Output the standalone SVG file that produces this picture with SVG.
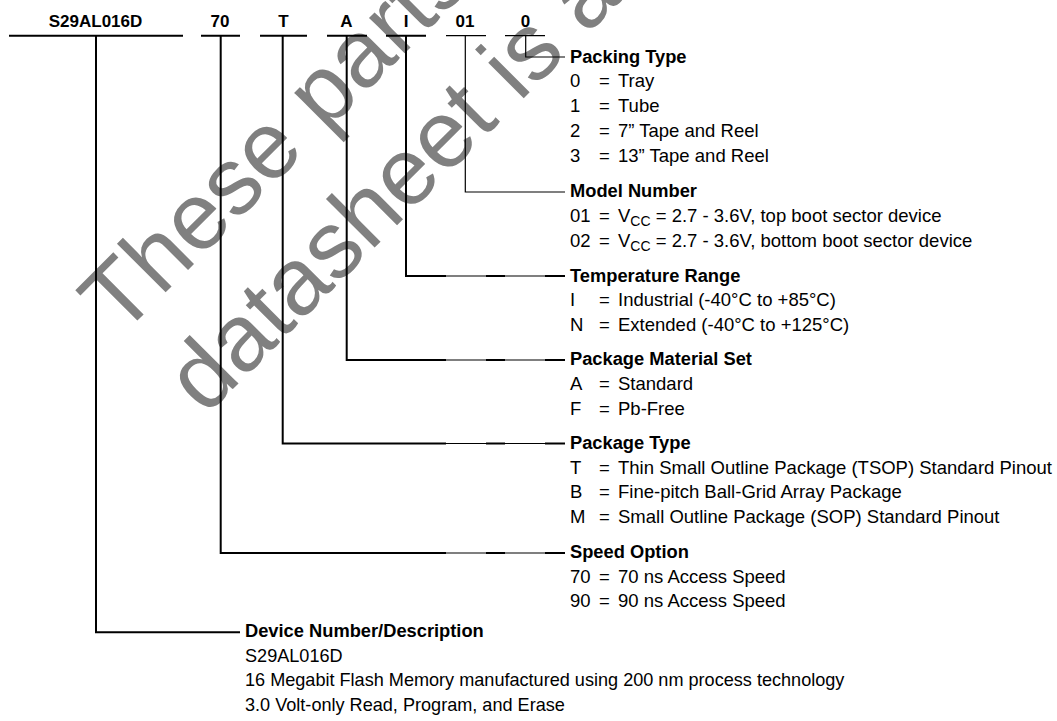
<svg xmlns="http://www.w3.org/2000/svg" width="1057" height="721" viewBox="0 0 1057 721">
<style>
  text { font-family: "Liberation Sans", Arial, sans-serif; fill: #000; }
  .code { font-size: 17px; font-weight: bold; text-anchor: middle; }
  .hdr { font-size: 18.3px; font-weight: bold; }
  .txt { font-size: 18.5px; }
  .dtxt { font-size: 18.1px; }
  .sub { font-size: 14px; }
  .wm { font-family: "Liberation Sans", Arial, sans-serif; font-size: 95px; fill: #808080; }
  .thick { stroke: #000; stroke-width: 2; fill: none; }
  .thin { stroke: #000; stroke-width: 1.2; fill: none; }
</style>
<rect width="1057" height="721" fill="#fff"/>
<g id="watermark" transform="translate(120,338) rotate(-45)">
  <text class="wm" x="0" y="0">These parts</text>
  <text class="wm" x="5" y="116">datasheet is a</text>
</g>
<g id="code-device">
  <text class="code" x="95.5" y="27">S29AL016D</text>
  <line class="thick" x1="9" y1="35.7" x2="183" y2="35.7"/>
</g>
<g id="code-speed">
  <text class="code" x="220" y="27">70</text>
  <line class="thick" x1="201" y1="35.7" x2="240" y2="35.7"/>
</g>
<g id="code-package">
  <text class="code" x="283.5" y="27">T</text>
  <line class="thick" x1="260" y1="35.7" x2="307" y2="35.7"/>
</g>
<g id="code-material">
  <text class="code" x="346.5" y="27">A</text>
  <line class="thick" x1="327" y1="35.7" x2="367" y2="35.7"/>
</g>
<g id="code-temp">
  <text class="code" x="406" y="27">I</text>
  <line class="thick" x1="386" y1="35.7" x2="426" y2="35.7"/>
</g>
<g id="code-model">
  <text class="code" x="465" y="27">01</text>
  <line class="thin" x1="446" y1="35.7" x2="486" y2="35.7"/>
</g>
<g id="code-packing">
  <text class="code" x="525.5" y="27">0</text>
  <line class="thin" x1="505" y1="35.7" x2="545" y2="35.7"/>
</g>
<g id="connectors">
  <polyline class="thin" points="525.7,36 525.7,57 565,57"/>
  <polyline class="thin" points="465.3,36 465.3,192 565,192"/>
  <polyline class="thick" points="406,36 406,276 446,276"/>
  <line class="thin" x1="446" y1="276" x2="486" y2="276"/>
  <line class="thick" x1="486" y1="276" x2="505" y2="276"/>
  <line class="thin" x1="505" y1="276" x2="545" y2="276"/>
  <line class="thick" x1="545" y1="276" x2="565" y2="276"/>
  <polyline class="thick" points="346.7,36 346.7,360 446,360"/>
  <line class="thin" x1="446" y1="360" x2="486" y2="360"/>
  <line class="thick" x1="486" y1="360" x2="505" y2="360"/>
  <line class="thin" x1="505" y1="360" x2="545" y2="360"/>
  <line class="thick" x1="545" y1="360" x2="565" y2="360"/>
  <polyline class="thick" points="282.7,36 282.7,443.5 446,443.5"/>
  <line class="thin" x1="446" y1="443.5" x2="486" y2="443.5"/>
  <line class="thick" x1="486" y1="443.5" x2="505" y2="443.5"/>
  <line class="thin" x1="505" y1="443.5" x2="545" y2="443.5"/>
  <line class="thick" x1="545" y1="443.5" x2="565" y2="443.5"/>
  <polyline class="thick" points="220.7,36 220.7,553 446,553"/>
  <line class="thin" x1="446" y1="553" x2="486" y2="553"/>
  <line class="thick" x1="486" y1="553" x2="505" y2="553"/>
  <line class="thin" x1="505" y1="553" x2="545" y2="553"/>
  <line class="thick" x1="545" y1="553" x2="565" y2="553"/>
  <polyline class="thick" points="96,36 96,632.3 240,632.3"/>
</g>
<g id="desc-packing">
  <text class="hdr" x="570" y="62.5">Packing Type</text>
  <text class="txt" x="570" y="87.3">0</text><text class="txt" x="599" y="87.3">=</text><text class="txt" x="618" y="87.3">Tray</text>
  <text class="txt" x="570" y="112.1">1</text><text class="txt" x="599" y="112.1">=</text><text class="txt" x="618" y="112.1">Tube</text>
  <text class="txt" x="570" y="136.9">2</text><text class="txt" x="599" y="136.9">=</text><text class="txt" x="618" y="136.9">7” Tape and Reel</text>
  <text class="txt" x="570" y="161.7">3</text><text class="txt" x="599" y="161.7">=</text><text class="txt" x="618" y="161.7">13” Tape and Reel</text>
</g>
<g id="desc-model">
  <text class="hdr" x="570" y="197.3">Model Number</text>
  <text class="txt" x="570" y="222">01</text><text class="txt" x="599" y="222">=</text><text class="txt" x="618" y="222">V<tspan class="sub" dy="4">CC</tspan><tspan dy="-4"> = 2.7 - 3.6V, top boot sector device</tspan></text>
  <text class="txt" x="570" y="246.8">02</text><text class="txt" x="599" y="246.8">=</text><text class="txt" x="618" y="246.8">V<tspan class="sub" dy="4">CC</tspan><tspan dy="-4"> = 2.7 - 3.6V, bottom boot sector device</tspan></text>
</g>
<g id="desc-temp">
  <text class="hdr" x="570" y="281.6">Temperature Range</text>
  <text class="txt" x="570" y="306.4">I</text><text class="txt" x="599" y="306.4">=</text><text class="txt" x="618" y="306.4">Industrial (-40°C to +85°C)</text>
  <text class="txt" x="570" y="331.2">N</text><text class="txt" x="599" y="331.2">=</text><text class="txt" x="618" y="331.2">Extended (-40°C to +125°C)</text>
</g>
<g id="desc-material">
  <text class="hdr" x="570" y="365.3">Package Material Set</text>
  <text class="txt" x="570" y="390">A</text><text class="txt" x="599" y="390">=</text><text class="txt" x="618" y="390">Standard</text>
  <text class="txt" x="570" y="414.8">F</text><text class="txt" x="599" y="414.8">=</text><text class="txt" x="618" y="414.8">Pb-Free</text>
</g>
<g id="desc-package">
  <text class="hdr" x="570" y="448.8">Package Type</text>
  <text class="txt" x="570" y="473.6">T</text><text class="txt" x="599" y="473.6">=</text><text class="txt" x="618" y="473.6">Thin Small Outline Package (TSOP) Standard Pinout</text>
  <text class="txt" x="570" y="498.4">B</text><text class="txt" x="599" y="498.4">=</text><text class="txt" x="618" y="498.4">Fine-pitch Ball-Grid Array Package</text>
  <text class="txt" x="570" y="523.2">M</text><text class="txt" x="599" y="523.2">=</text><text class="txt" x="618" y="523.2">Small Outline Package (SOP) Standard Pinout</text>
</g>
<g id="desc-speed">
  <text class="hdr" x="570" y="557.8">Speed Option</text>
  <text class="txt" x="570" y="582.6">70</text><text class="txt" x="599" y="582.6">=</text><text class="txt" x="618" y="582.6">70 ns Access Speed</text>
  <text class="txt" x="570" y="607.4">90</text><text class="txt" x="599" y="607.4">=</text><text class="txt" x="618" y="607.4">90 ns Access Speed</text>
</g>
<g id="desc-device">
  <text class="hdr" x="245" y="636.8">Device Number/Description</text>
  <text class="dtxt" x="245" y="661.6">S29AL016D</text>
  <text class="dtxt" x="245" y="686.4">16 Megabit Flash Memory manufactured using 200 nm process technology</text>
  <text class="dtxt" x="245" y="711.2">3.0 Volt-only Read, Program, and Erase</text>
</g>
</svg>
